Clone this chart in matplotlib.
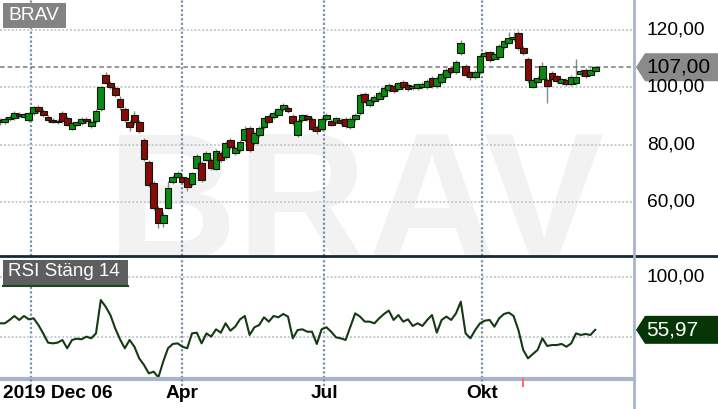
import numpy as np
import matplotlib
matplotlib.use("Agg")
import matplotlib.pyplot as plt
from matplotlib.patches import Polygon, Rectangle

plt.rcParams['font.family'] = ['Liberation Sans', 'DejaVu Sans']

# Candles, one per two trading days (Dec 2019 - Dec 2020)
opens = [88.6, 87.9, 88.8, 89.2, 90.8, 89.8, 88.6, 91.0, 93.0, 91.8,
         89.8, 88.6, 87.8, 91.2, 89.3, 85.6, 87.0, 87.4, 89.0, 86.4,
         88.2, 92.4, 104.3, 101.5, 99.8, 96.0, 92.5, 88.0, 90.4, 88.0,
         81.6, 74.0, 66.5, 58.0, 52.8, 58.0, 66.8, 68.8, 68.7, 68.2,
         66.3, 72.0, 73.6, 74.8, 74.8, 71.6, 77.0, 75.7, 81.6, 77.0,
         78.0, 81.6, 85.8, 80.6, 83.3, 86.0, 90.0, 89.6, 90.5, 92.4,
         92.8, 90.0, 83.3, 88.6, 90.0, 89.0, 86.2, 85.4, 89.0, 88.2,
         87.8, 88.6, 89.0, 86.0, 89.0, 91.0, 97.7, 93.8, 95.2, 96.0,
         97.0, 99.0, 100.5, 99.4, 101.8, 100.8, 99.8, 99.8, 100.0, 100.0,
         103.2, 100.4, 101.8, 103.6, 106.7, 105.3, 112.0, 107.4, 105.2, 103.6,
         105.3, 111.0, 112.2, 110.0, 110.6, 114.0, 115.5, 116.9, 119.0, 113.8,
         110.0, 100.0, 102.0, 103.0, 102.5, 105.0, 103.8, 101.5, 102.5, 101.0,
         101.5, 104.6, 106.0, 104.4, 105.8]
closes = [87.8, 89.0, 89.8, 91.0, 90.0, 90.6, 91.0, 93.0, 91.8, 90.2,
          88.6, 88.0, 88.4, 88.2, 87.0, 87.4, 87.8, 88.8, 88.2, 88.0,
          91.6, 100.0, 101.5, 100.0, 97.3, 93.0, 88.6, 86.2, 87.8, 84.8,
          75.0, 66.0, 58.0, 52.6, 55.6, 65.0, 68.8, 70.2, 67.0, 65.2,
          70.0, 76.0, 67.8, 77.0, 71.8, 77.8, 74.6, 80.6, 79.0, 78.8,
          81.0, 85.4, 78.2, 84.0, 85.8, 89.3, 88.0, 91.0, 92.3, 93.8,
          91.8, 87.5, 88.2, 90.2, 88.8, 85.4, 84.6, 89.0, 90.3, 87.0,
          89.2, 87.6, 86.5, 89.0, 90.3, 97.3, 95.0, 95.6, 96.6, 98.0,
          99.8, 100.8, 98.7, 101.5, 100.0, 99.4, 100.6, 101.0, 101.2, 102.2,
          100.5, 103.2, 104.6, 106.0, 105.3, 109.0, 115.6, 104.2, 103.6, 105.3,
          111.0, 112.0, 109.6, 111.6, 114.4, 116.0, 117.2, 117.6, 113.7, 111.8,
          102.5, 102.5, 103.2, 107.4, 100.5, 103.0, 102.2, 102.8, 101.0, 103.6,
          103.6, 105.7, 104.0, 106.0, 107.0]
highs = [89.2, 89.6, 90.4, 91.6, 91.4, 91.2, 91.5, 93.6, 93.8, 92.4,
         90.4, 89.2, 89.0, 91.8, 89.9, 88.0, 88.4, 89.6, 89.6, 88.6,
         92.4, 100.6, 105.4, 102.2, 100.4, 96.8, 93.2, 88.6, 91.8, 88.6,
         82.4, 74.6, 67.2, 58.6, 56.4, 67.2, 69.4, 70.8, 69.4, 68.8,
         70.6, 76.6, 74.4, 77.8, 75.4, 78.4, 77.6, 81.2, 82.4, 79.4,
         81.6, 86.4, 86.6, 84.6, 86.4, 89.8, 90.8, 91.6, 92.8, 94.6,
         93.4, 90.6, 88.8, 90.8, 90.6, 89.6, 86.8, 89.6, 90.9, 88.8,
         89.8, 89.2, 89.6, 89.6, 90.9, 98.0, 98.4, 96.2, 97.2, 98.6,
         100.4, 101.4, 101.1, 102.0, 102.4, 101.4, 101.2, 101.6, 101.8, 102.8,
         103.8, 103.8, 105.2, 106.6, 107.4, 109.6, 116.6, 108.0, 105.8, 105.9,
         111.6, 112.8, 112.8, 112.2, 115.0, 116.6, 119.4, 119.2, 119.6, 114.4,
         110.6, 103.1, 103.8, 109.0, 103.1, 105.6, 104.4, 103.4, 103.1, 104.2,
         110.0, 106.3, 106.6, 106.6, 107.6]
lows = [87.0, 87.2, 88.2, 88.6, 89.4, 89.2, 88.0, 90.4, 91.2, 89.6,
        88.0, 87.4, 87.2, 87.6, 86.4, 85.0, 86.4, 86.8, 87.4, 85.8,
        87.6, 91.8, 101.0, 99.4, 96.6, 92.2, 87.8, 84.8, 87.0, 84.0,
        74.4, 65.2, 57.2, 50.8, 51.2, 57.4, 66.2, 68.2, 66.4, 63.8,
        65.6, 71.4, 67.0, 74.2, 71.2, 71.0, 74.0, 75.0, 78.4, 76.4,
        77.4, 81.0, 77.4, 80.0, 82.8, 85.4, 87.4, 89.0, 90.0, 91.8,
        91.2, 86.8, 82.6, 88.0, 88.2, 84.8, 83.8, 84.8, 88.4, 86.4,
        87.2, 87.0, 85.8, 85.4, 88.4, 90.4, 94.4, 93.2, 94.6, 95.4,
        96.4, 98.4, 98.0, 98.8, 99.4, 98.8, 99.2, 99.2, 99.4, 99.4,
        99.8, 99.8, 101.2, 103.0, 104.6, 104.6, 111.4, 103.6, 102.4, 103.0,
        104.8, 110.4, 109.0, 109.4, 110.0, 113.4, 115.0, 116.3, 113.1, 111.2,
        101.6, 99.8, 101.4, 102.4, 94.5, 102.4, 101.6, 100.9, 100.4, 100.4,
        100.9, 104.0, 103.4, 103.8, 105.2]

rsi = [61.4, 61.4, 64.2, 67.5, 64.2, 67.5, 64.7, 65.6, 60.0, 53.0,
       45.3, 44.7, 45.3, 47.5, 40.6, 47.5, 48.6, 48.1, 50.3, 48.9,
       53.0, 80.8, 75.3, 68.3, 57.2, 48.1, 40.6, 47.5, 41.9, 32.2,
       26.7, 19.7, 21.1, 16.4, 29.4, 40.6, 44.2, 44.7, 41.9, 40.6,
       53.0, 53.6, 44.7, 53.0, 50.3, 56.4, 53.6, 61.4, 55.3, 58.6,
       64.7, 67.5, 51.7, 58.1, 60.0, 66.4, 62.8, 67.5, 66.4, 69.2,
       67.0, 48.9, 55.8, 56.4, 54.4, 54.4, 44.2, 56.4, 58.1, 54.4,
       49.7, 48.9, 47.5, 58.6, 69.7, 67.0, 62.8, 62.8, 61.4, 65.6,
       69.2, 72.0, 64.2, 68.3, 62.8, 64.7, 59.2, 61.4, 59.2, 64.2,
       68.3, 53.6, 64.2, 67.0, 64.2, 69.7, 79.4, 53.0, 48.9, 55.8,
       61.4, 63.6, 64.2, 58.6, 65.6, 69.2, 70.3, 67.5, 55.8, 39.2,
       32.2, 35.8, 39.2, 48.9, 42.5, 43.3, 43.3, 44.2, 41.9, 44.7,
       53.0, 51.7, 52.5, 51.7, 55.97]

# x axis in trading days from 2019-12-06
tick_days = [13, 76, 135, 201]
tick_labels = ['2019 Dec 06', 'Apr', 'Jul', 'Okt']
price_ticks = [60, 80, 100, 120]
rsi_ticks = [50, 100]
event_day = 218

GREEN = '#0a8a12'
RED = '#8a0a0a'
VGRID = '#7890a8'
HGRID = '#c4ccd4'
FRAME = '#a8b4c8'

W, H = 718, 409
fig = plt.figure(figsize=(W / 100, H / 100), dpi=100)
fig.patch.set_facecolor('white')

ax1 = fig.add_axes([0, (H - 256) / H, 633 / W, 256 / H])
ax2 = fig.add_axes([0, (H - 378) / H, 633 / W, 120 / H])

x = np.arange(len(closes)) * 2
xmax = 263.75

for ax in (ax1, ax2):
    ax.set_xlim(0, xmax)
    for s in ax.spines.values():
        s.set_visible(False)
    ax.set_xticks([])
    ax.set_yticks([])
    for d in tick_days:
        ax.axvline(d, color=VGRID, lw=1.6, ls=(0, (1, 1)), zorder=1)

ax1.set_ylim(41.12, 130.47)
ax2.set_ylim(15.83, 115.83)

for p in price_ticks:
    ax1.axhline(p, color=HGRID, lw=1.4, ls=(0, (1, 1)), zorder=1)
for r in rsi_ticks:
    ax2.axhline(r, color=HGRID, lw=1.4, ls=(0, (1, 1)), zorder=1)

# watermark
ax1.text(148.5, 39.7, 'BRAV', fontsize=130, fontweight='bold', color='#f2f2f2',
         ha='center', va='baseline', zorder=0, clip_on=True)

# candles
opens_a = np.array(opens)
closes_a = np.array(closes)
up = closes_a >= opens_a
ax1.vlines(x, lows, highs, color='#888888', lw=1, zorder=2)
for i in range(len(x)):
    bottom = min(opens[i], closes[i])
    height = max(abs(closes[i] - opens[i]), 0.35)
    ax1.bar(x[i], height, bottom=bottom, width=2.9,
            color=GREEN if up[i] else RED, edgecolor='#0c1a0c',
            linewidth=0.8, zorder=3)

last_close = closes[-1]
ax1.axhline(last_close, color='#7a7a7a', lw=1.1, ls=(0, (3, 2)), zorder=2)

# RSI
ax2.plot(x, rsi, color='#133a13', lw=1.5, zorder=3)

# panel frames
fig.add_artist(plt.Line2D([0, 1], [(H - 256) / H] * 2, color='#16283a', lw=2))
fig.add_artist(plt.Line2D([633.5 / W] * 2, [0, 1], color=FRAME, lw=2))
fig.add_artist(plt.Line2D([0, 633.5 / W], [(H - 378.5) / H] * 2, color=FRAME, lw=3))

# right-hand tick labels
for p in price_ticks:
    yf = ax1.transData.transform((0, p))[1]
    fig.text(647 / W, yf / H, f'{p},00', fontsize=13.8, va='center', ha='left')
for r in rsi_ticks[1:]:
    yf = ax2.transData.transform((0, r))[1]
    fig.text(647 / W, yf / H, f'{r},00', fontsize=13.8, va='center', ha='left')


def value_tag(yc, text, face, fg):
    pts = [(636, yc), (645, yc + 14), (718, yc + 14), (718, yc - 14), (645, yc - 14)]
    pts = [(px / W, py / H) for px, py in pts]
    fig.add_artist(Polygon(pts, closed=True, facecolor=face, edgecolor='none',
                           transform=fig.transFigure))
    fig.text(646 / W, yc / H, text, fontsize=15, color=fg, va='center', ha='left')


yc = ax1.transData.transform((0, last_close))[1]
value_tag(yc, f'{last_close:.2f}'.replace('.', ','), '#8a8a8a', 'black')
yc = ax2.transData.transform((0, rsi[-1]))[1]
value_tag(yc, f'{rsi[-1]:.2f}'.replace('.', ','), '#063606', 'white')

# title boxes
fig.add_artist(Rectangle((3 / W, (H - 28) / H), 63 / W, 25 / H, facecolor='#838383',
                         edgecolor='none', transform=fig.transFigure))
fig.text(8 / W, (H - 15.5) / H, 'BRAV', fontsize=13.8, color='white', va='center')
fig.add_artist(Rectangle((3 / W, (H - 286) / H), 125 / W, 26 / H, facecolor='#5e5e5e',
                         edgecolor='none', transform=fig.transFigure))
fig.add_artist(plt.Line2D([3 / W, 128 / W], [(H - 285.5) / H] * 2, color='#1a4a1a', lw=1.5))
fig.text(8 / W, (H - 272) / H, 'RSI Stäng 14', fontsize=13.5, color='white', va='center')

# bottom date labels
for d, lab in zip(tick_days, tick_labels):
    xp = ax2.transData.transform((d, 0))[0]
    fig.add_artist(plt.Line2D([xp / W] * 2, [(H - 386) / H, (H - 378) / H],
                              color=VGRID, lw=1.6, ls=(0, (1, 1))))
    if lab.startswith('2019'):
        fig.text(3 / W, (H - 394) / H, lab, fontsize=13.8, fontweight='bold', va='center')
    else:
        fig.text(xp / W, (H - 394) / H, lab, fontsize=13.8, fontweight='bold',
                 va='center', ha='center')
xp = ax2.transData.transform((event_day, 0))[0]
fig.add_artist(plt.Line2D([xp / W] * 2, [(H - 386) / H, (H - 379) / H], color='#ff6a6a', lw=1.5))

fig.savefig('out.png', dpi=100, facecolor='white')
